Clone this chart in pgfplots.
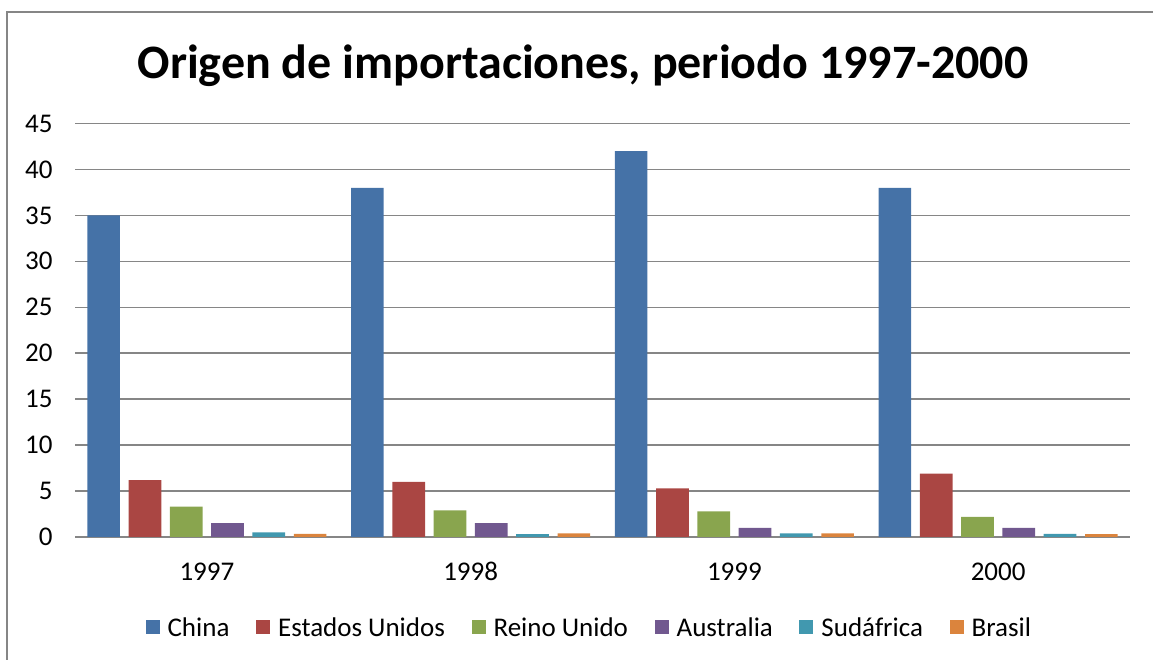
\documentclass[border=0pt]{standalone}
\usepackage{pgfplots}
\pgfplotsset{compat=1.18}
\usepackage{fontspec}
\setmainfont{Carlito}
\definecolor{cChina}{HTML}{4572A7}
\definecolor{cEU}{HTML}{AA4643}
\definecolor{cRU}{HTML}{89A54E}
\definecolor{cAU}{HTML}{71588F}
\definecolor{cSA}{HTML}{4198AF}
\definecolor{cBR}{HTML}{DB843D}
\definecolor{gridc}{HTML}{868686}
\begin{document}
\begin{tikzpicture}[x=1pt,y=1pt]
\useasboundingbox (0,0) rectangle (1153,660);
\draw[gridc,line width=2pt] (7,-5) -- (7,648) -- (1160,648);
\node[anchor=base,font=\bfseries\fontsize{48}{56}\selectfont] at (583,581) {Origen de importaciones, periodo 1997-2000};
\begin{axis}[
  at={(75pt,123pt)}, anchor=south west,
  scale only axis, width=1055pt, height=413.5pt,
  ymin=0, ymax=45, ytick={0,5,...,45},
  xmin=-0.5, xmax=3.5, xtick={0,1,2,3},
  xticklabels={1997,1998,1999,2000},
  ybar, bar width=32.7pt,
  axis line style={draw=none},
  axis x line*=bottom,
  x axis line style={draw=gridc,line width=1.5pt},
  xmajorgrids=false, ymajorgrids=true,
  major grid style={draw=gridc,line width=1.5pt},
  major tick length=0pt,
  ticklabel style={font=\fontsize{27}{32}\selectfont},
  /pgf/number format/assume math mode=true,
  yticklabel style={xshift=-19pt},
  xticklabel style={yshift=-22pt},
  legend style={at={(0.4875,-0.2188)},anchor=center,draw=none,legend columns=6,
    font=\fontsize{27}{32}\selectfont,
    /tikz/every odd column/.append style={column sep=6pt},
    /tikz/every even column/.append style={column sep=24.6pt}},
  legend image code/.code={\fill[#1] (0pt,-7pt) rectangle (14pt,7pt);},
]
\addplot[fill=cChina,draw=none,bar shift=-103.25pt] coordinates {(0,35) (1,38) (2,42) (3,38)};
\addplot[fill=cEU,draw=none,bar shift=-61.95pt] coordinates {(0,6.2) (1,6.0) (2,5.3) (3,6.9)};
\addplot[fill=cRU,draw=none,bar shift=-20.65pt] coordinates {(0,3.3) (1,2.9) (2,2.8) (3,2.2)};
\addplot[fill=cAU,draw=none,bar shift=20.65pt] coordinates {(0,1.5) (1,1.5) (2,1.0) (3,1.0)};
\addplot[fill=cSA,draw=none,bar shift=61.95pt] coordinates {(0,0.5) (1,0.3) (2,0.4) (3,0.35)};
\addplot[fill=cBR,draw=none,bar shift=103.25pt] coordinates {(0,0.35) (1,0.4) (2,0.4) (3,0.3)};
\legend{China,Estados Unidos,Reino Unido,Australia,Sudáfrica,Brasil}
\end{axis}
\end{tikzpicture}
\end{document}
